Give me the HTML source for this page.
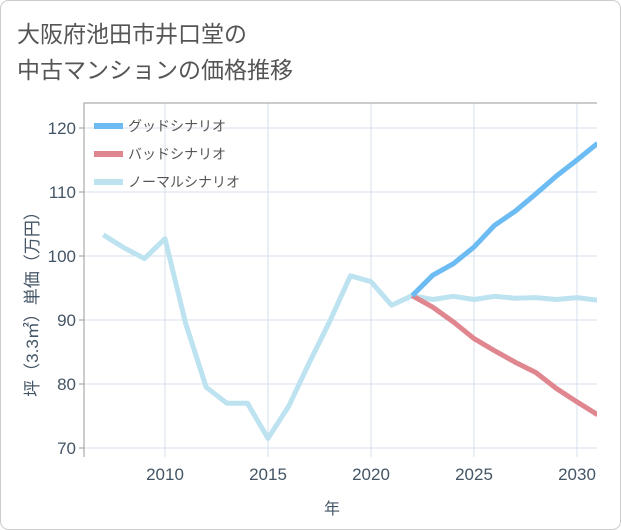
<!DOCTYPE html>
<html><head><meta charset="utf-8"><style>
body{margin:0;background:#fff;}
svg{display:block;font-family:"Liberation Sans","Noto Sans CJK JP",sans-serif;}
</style></head><body>
<svg width="621" height="530">
<rect x="0.5" y="0.5" width="620" height="529" rx="8" fill="#fff" stroke="#ccc"/>
<text x="17" y="42" font-size="23" fill="#555">大阪府池田市井口堂の</text>
<text x="17" y="78" font-size="23" fill="#555">中古マンションの価格推移</text>
<g id="grid"></g>
<g id="axes"></g>
<g id="series"></g>
<g id="legend"></g>
<text x="332" y="514" font-size="16" fill="#456" text-anchor="middle">年</text>
<text transform="translate(38,300) rotate(-90)" font-size="17" fill="#456" text-anchor="middle">坪（3.3㎡）単価（万円）</text>
</svg>
<script>
const years=[2007,2008,2009,2010,2011,2012,2013,2014,2015,2016,2017,2018,2019,2020,2021,2022,2023,2024,2025,2026,2027,2028,2029,2030,2031];
const normal=[103.3,101.3,99.6,102.7,89.5,79.5,77,77,71.5,76.5,83.3,89.8,96.9,96,92.3,93.8,93.2,93.7,93.2,93.7,93.4,93.5,93.2,93.5,93.1];
const goodYears=[2022,2023,2024,2025,2026,2027,2028,2029,2030,2031];
const good=[93.8,97,98.8,101.4,104.8,107,109.7,112.5,115,117.6];
const bad=[93.8,92,89.7,87.1,85.2,83.4,81.8,79.3,77.2,75.2];
const xTicks=[2010,2015,2020,2025,2030];
const yTicks=[70,80,90,100,110,120];
const L=84,R=597,T=103,B=457;
const xs=v=>165+(v-2010)*20.6;
const ys=v=>448-(v-70)*6.4;
const NS='http://www.w3.org/2000/svg';
function mk(p,t,a){const e=document.createElementNS(NS,t);for(const k in a)e.setAttribute(k,a[k]);p.appendChild(e);return e;}
const grid=document.getElementById('grid'),axes=document.getElementById('axes'),ser=document.getElementById('series'),leg=document.getElementById('legend');
xTicks.forEach(t=>{const l=mk(grid,'line',{x1:xs(t),x2:xs(t),y1:T,y2:B,stroke:'#d5e2ee'});

const tx=mk(axes,'text',{x:xs(t),y:480,'font-size':17,fill:'#456','text-anchor':'middle'});tx.textContent=t;
});
yTicks.forEach(t=>{const l=mk(grid,'line',{x1:L,x2:R,y1:ys(t),y2:ys(t),stroke:'#d5e2ee'});

const tk=mk(axes,'line',{x1:L-5,x2:L,y1:ys(t),y2:ys(t),stroke:'#999'});

const tx=mk(axes,'text',{x:L-8,y:ys(t)+6,'font-size':17,fill:'#456','text-anchor':'end'});tx.textContent=t;
});
const ax=mk(axes,'path',{d:`M${R},${T}H${L}V${B}`,fill:'none',stroke:'#999'});

const clip=mk(ser,'clipPath',{id:'c'});mk(clip,'rect',{x:L,y:T,width:R-L,height:B-T});
function line(xv,yv,col,name){const d=xv.map((x,i)=>(i?'L':'M')+xs(x)+','+ys(yv[i])).join('');
const p=mk(ser,'path',{d,fill:'none',stroke:col,'stroke-width':5,'stroke-linejoin':'round','clip-path':'url(#c)'});
}
line(years,normal,'#bde2f0','normal-scenario-line');
line(goodYears,bad,'#e0868f','bad-scenario-line');
line(goodYears,good,'#6cbcf3','good-scenario-line');
[['グッドシナリオ','#6cbcf3'],['バッドシナリオ','#e0868f'],['ノーマルシナリオ','#bde2f0']].forEach((e,i)=>{
const y=126+i*28;const g=mk(leg,'g',{});
mk(g,'line',{x1:94,x2:123,y1:y,y2:y,stroke:e[1],'stroke-width':6});
const t=mk(g,'text',{x:128,y:y+5,'font-size':14,fill:'#555'});t.textContent=e[0];});
</script>
</body></html>
